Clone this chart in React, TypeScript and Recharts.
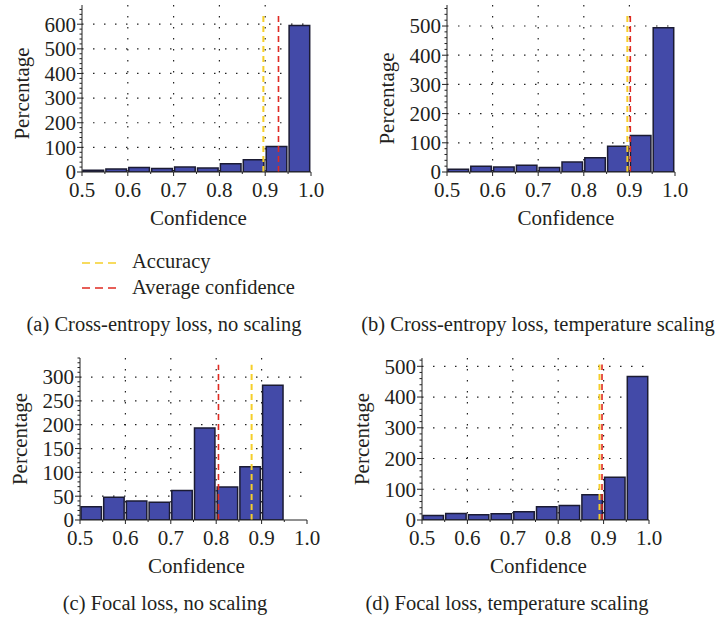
import { BarChart, Bar, XAxis, YAxis, CartesianGrid, ReferenceLine } from "recharts"

const FONT = "'Liberation Serif', 'DejaVu Serif', serif"
const TEXT = "#231f20"
const AXIS = "#222"
const BORDER = "#666"
const BAR_FILL = "#434aa8"
const BAR_STROKE = "#1b1b33"
const ACC_COLOR = "#f5cf2a"
const CONF_COLOR = "#e02a22"

// histogram bins: centre of each 0.05 wide confidence bin
const binCenters = [0.525, 0.575, 0.625, 0.675, 0.725, 0.775, 0.825, 0.875, 0.925, 0.975]
const xTicks = [0.5, 0.55, 0.6, 0.65, 0.7, 0.75, 0.8, 0.85, 0.9, 0.95, 1.0]
const xGrid = [0.6, 0.7, 0.8, 0.9]

// counts per bin
const countsA = [7, 12, 18, 14, 20, 16, 34, 50, 104, 595]
const countsB = [9, 20, 17, 23, 15, 34, 49, 88, 125, 494]
const countsC = [28, 48, 40, 37, 62, 193, 69, 112, 283, 0]
const countsD = [15, 21, 17, 20, 27, 43, 47, 82, 139, 467]

// accuracy / average confidence markers
const accA = 0.896
const confA = 0.929
const accB = 0.8955
const confB = 0.902
const accC = 0.878
const confC = 0.805
const accD = 0.891
const confD = 0.8965

const yTicksA = [0, 100, 200, 300, 400, 500, 600]
const yTicksB = [0, 100, 200, 300, 400, 500]
const yTicksC = [0, 50, 100, 150, 200, 250, 300]
const yTicksD = [0, 100, 200, 300, 400, 500]

const captions = [
  "(a) Cross-entropy loss, no scaling",
  "(b) Cross-entropy loss, temperature scaling",
  "(c) Focal loss, no scaling",
  "(d) Focal loss, temperature scaling",
]

const YTick = (props: any) => {
  const { x, y, payload, majors } = props
  const v = payload.value
  const isMajor = majors.includes(v)
  return (
    <g>
      <line x1={x - (isMajor ? 5 : 2.5)} x2={x} y1={y} y2={y} stroke={AXIS} strokeWidth={1} />
      {isMajor && (
        <text x={x - 6} y={y} dy="0.35em" textAnchor="end" fontFamily={FONT} fontSize={21} fill={TEXT}>
          {v}
        </text>
      )}
    </g>
  )
}

const XTick = (props: any) => {
  const { x, y, payload } = props
  const v = payload.value
  const isMajor = Math.abs(v * 10 - Math.round(v * 10)) < 1e-6
  return (
    <g>
      <line x1={x} x2={x} y1={y} y2={y + (isMajor ? 4 : 2)} stroke={AXIS} strokeWidth={1} />
      {isMajor && (
        <text x={x} y={y + 25} textAnchor="middle" fontFamily={FONT} fontSize={21} fill={TEXT}>
          {v.toFixed(1)}
        </text>
      )}
    </g>
  )
}

function Panel({ left, top, width, height, margin, counts, majors, minorStep, yMax, lineTop, acc, conf, labelDy, titleDx }: any) {
  const data = binCenters.map((c, i) => ({ mid: c, count: counts[i] }))
  const minors: number[] = []
  for (let v = 0; v <= yMax; v += minorStep) minors.push(v)
  const plotWidth = width - margin.left - margin.right - 60
  return (
    <div style={{ position: "absolute", left, top }}>
      <BarChart width={width} height={height} data={data} margin={margin} barCategoryGap={0} barGap={0}>
        <CartesianGrid
          xAxisId="num"
          yAxisId="left"
          verticalValues={xGrid}
          horizontalValues={majors.filter((m: number) => m > 0)}
          stroke="#222"
          strokeWidth={1.2}
          strokeDasharray="1.5 9.5"
        />
        <XAxis
          xAxisId="num"
          dataKey="mid"
          type="number"
          domain={[0.5, 1]}
          ticks={xTicks}
          interval={0}
          allowDataOverflow
          tickSize={0}
          tickMargin={0}
          tickLine={false}
          tick={<XTick />}
          height={55}
          stroke={AXIS}
          label={{ value: "Confidence", position: "insideBottom", offset: 2, dx: titleDx, fontFamily: FONT, fontSize: 21, fill: TEXT }}
        />
        <XAxis xAxisId="top" dataKey="mid" orientation="top" type="number" domain={[0.5, 1]} allowDataOverflow height={0} tick={false} tickLine={false} stroke={BORDER} />
        <YAxis
          yAxisId="left"
          type="number"
          domain={[0, yMax]}
          ticks={minors}
          interval={0}
          allowDataOverflow
          tickSize={0}
          tickMargin={0}
          tickLine={false}
          tick={(p: any) => <YTick {...p} majors={majors} />}
          width={60}
          stroke={AXIS}
          label={{ value: "Percentage", angle: -90, position: "center", dx: -30, dy: labelDy, fontFamily: FONT, fontSize: 21, fill: TEXT }}
        />
        <YAxis yAxisId="right" orientation="right" type="number" domain={[0, yMax]} allowDataOverflow width={0} tick={false} tickLine={false} stroke={BORDER} />
        <Bar
          xAxisId="num"
          yAxisId="left"
          dataKey="count"
          barSize={plotWidth / 10}
          fill={BAR_FILL}
          stroke={BAR_STROKE}
          strokeWidth={1.5}
          isAnimationActive={false}
        />
        <ReferenceLine
          xAxisId="num"
          yAxisId="left"
          segment={[{ x: acc, y: 0 }, { x: acc, y: lineTop }]}
          stroke={ACC_COLOR}
          strokeWidth={2}
          strokeDasharray="6 4"
        />
        <ReferenceLine
          xAxisId="num"
          yAxisId="left"
          segment={[{ x: conf, y: 0 }, { x: conf, y: lineTop }]}
          stroke={CONF_COLOR}
          strokeWidth={1.6}
          strokeDasharray="6 4"
        />
      </BarChart>
    </div>
  )
}

export default function App() {
  return (
    <div style={{ position: "absolute", left: 0, top: 0, width: 718, height: 622, background: "#fff", overflow: "hidden" }}>
      <svg width={718} height={622} style={{ position: "absolute", left: 0, top: 0 }}>
        <line x1={82} x2={117} y1={263} y2={263} stroke={ACC_COLOR} strokeWidth={1.6} strokeDasharray="8 5" />
        <text x={132} y={268} fontFamily={FONT} fontSize={20.5} fill={TEXT}>Accuracy</text>
        <line x1={82} x2={117} y1={288} y2={288} stroke={CONF_COLOR} strokeWidth={1.6} strokeDasharray="8 5" />
        <text x={132} y={294} fontFamily={FONT} fontSize={20.5} fill={TEXT}>Average confidence</text>
        <text x={164} y={331} textAnchor="middle" fontFamily={FONT} fontSize={20.5} fill={TEXT}>{captions[0]}</text>
        <text x={538} y={331} textAnchor="middle" fontFamily={FONT} fontSize={20.5} fill={TEXT}>{captions[1]}</text>
        <text x={165} y={610} textAnchor="middle" fontFamily={FONT} fontSize={20.5} fill={TEXT}>{captions[2]}</text>
        <text x={507} y={610} textAnchor="middle" fontFamily={FONT} fontSize={20.5} fill={TEXT}>{captions[3]}</text>
      </svg>
      <Panel left={0} top={0} width={328} height={230} margin={{ top: 5, right: 17, bottom: 3, left: 22 }}
        counts={countsA} majors={yTicksA} minorStep={20} yMax={678} lineTop={637} acc={accA} conf={confA} labelDy={5} titleDx={2} />
      <Panel left={365} top={0} width={330} height={230} margin={{ top: 5, right: 20, bottom: 3, left: 22 }}
        counts={countsB} majors={yTicksB} minorStep={20} yMax={572} lineTop={538} acc={accB} conf={confB} labelDy={10} titleDx={5} />
      <Panel left={0} top={353} width={324} height={225} margin={{ top: 5, right: 17, bottom: 3, left: 20 }}
        counts={countsC} majors={yTicksC} minorStep={10} yMax={340} lineTop={326} acc={accC} conf={confC} labelDy={0} titleDx={3} />
      <Panel left={340} top={353} width={326} height={225} margin={{ top: 5, right: 17, bottom: 3, left: 22 }}
        counts={countsD} majors={yTicksD} minorStep={20} yMax={527} lineTop={506} acc={accD} conf={confD} labelDy={0} titleDx={3} />
    </div>
  )
}
